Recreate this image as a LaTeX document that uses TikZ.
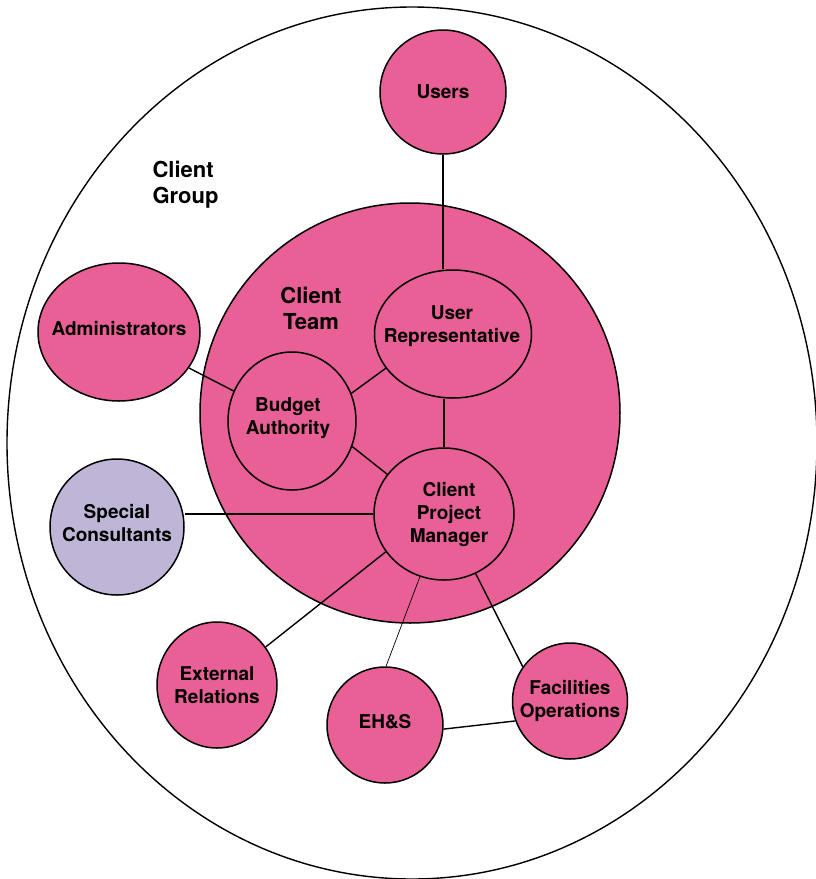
\documentclass[tikz,border=0pt]{standalone}
\usepackage{fontspec}
\setmainfont{TeX Gyre Heros}
\usetikzlibrary{shapes.geometric}
\definecolor{teampink}{RGB}{233,96,150}
\definecolor{consultlilac}{RGB}{191,181,214}

\begin{document}
\begin{tikzpicture}[x=1pt,y=-1pt,
	blob/.style={ellipse,draw,fill=teampink,line width=1.5pt,inner sep=0pt},
	tag/.style={font=\bfseries\fontsize{19}{23}\selectfont,align=center},
	heading/.style={font=\bfseries\fontsize{22}{26}\selectfont},
	link/.style={line width=1.4pt}]
	\path[fill=white,use as bounding box] (0,0) rectangle (815,879);
	\node[ellipse,draw,line width=1.4pt,inner sep=0pt,minimum width=810pt,minimum height=872pt] (group) at (412,443) {};
	\node[circle,draw,fill=teampink,line width=1.5pt,inner sep=0pt,minimum size=420pt] (team) at (410,413) {};
	\node[heading,align=left,anchor=west] (grouptag) at (149,185) {Client\\Group};
	\node[heading,align=center] (teamtag) at (311,308) {Client\\Team};

	\node[blob,minimum width=126pt,minimum height=124pt,label={[tag]center:Users}] (users) at (443,92) {};
	\node[blob,minimum width=157pt,minimum height=128pt,label={[tag,yshift=8pt,xshift=-1pt]center:User\\Representative}] (urep) at (453,334) {};
	\node[blob,minimum width=128pt,minimum height=138pt,label={[tag,yshift=3pt,xshift=-4pt]center:Budget\\Authority}] (ba) at (292,421) {};
	\node[blob,minimum width=140pt,minimum height=132pt,label={[tag,xshift=5pt]center:Client\\Project\\Manager}] (cpm) at (444,514) {};
	\node[blob,minimum width=162pt,minimum height=138pt,label={[tag,yshift=3pt]center:Administrators}] (admin) at (119,332) {};
	\node[blob,fill=consultlilac,minimum width=134pt,minimum height=136pt,label={[tag,yshift=4pt]center:Special\\Consultants}] (sc) at (117,527) {};
	\node[blob,minimum width=120pt,minimum height=126pt,label={[tag]center:External\\Relations}] (extrel) at (217,685) {};
	\node[blob,minimum width=116pt,minimum height=116pt,label={[tag,yshift=3pt]center:EH\&S}] (ehs) at (385,725) {};
	\node[blob,minimum width=115pt,minimum height=116pt,label={[tag]center:Facilities\\Operations}] (facops) at (570,701) {};

	\path[link]
	(users.south)	edge (users.south |- urep.north)
	(cpm.north)		edge (cpm.north |- urep.south)
	(admin)			edge (ba)
	(ba.25)			edge (urep.207)
	(ba.337)		edge (cpm.145)
	(cpm.west)		edge (cpm.west -| sc.east)
	(cpm.213)		edge (extrel.38)
	(cpm.249)		edge [line width=0.7pt] (ehs.89)
	(cpm.298)		edge (facops.144)
	(ehs.356)		edge (facops.200)
	;
\end{tikzpicture}
\end{document}
